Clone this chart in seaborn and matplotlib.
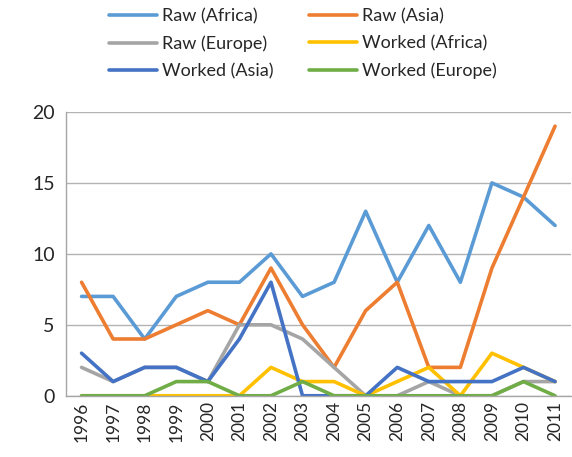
import seaborn as sns
import pandas as pd
import matplotlib.pyplot as plt
import numpy as np

# Data
years = list(range(1996, 2012))
raw_africa = [7, 7, 4, 7, 8, 8, 10, 7, 8, 13, 8, 12, 8, 15, 14, 12]
raw_asia = [8, 4, 4, 5, 6, 5, 9, 5, 2, 6, 8, 2, 2, 9, 14, 19]
raw_europe = [2, 1, 2, 2, 1, 5, 5, 4, 2, 0, 0, 1, 0, 0, 1, 1]
worked_africa = [0, 0, 0, 0, 0, 0, 2, 1, 1, 0, 1, 2, 0, 3, 2, 1]
worked_asia = [3, 1, 2, 2, 1, 4, 8, 0, 0, 0, 2, 1, 1, 1, 2, 1]
worked_europe = [0, 0, 0, 1, 1, 0, 0, 1, 0, 0, 0, 0, 0, 0, 1, 0]

series_names = ['Raw (Africa)', 'Raw (Asia)', 'Raw (Europe)',
                'Worked (Africa)', 'Worked (Asia)', 'Worked (Europe)']
series_values = [raw_africa, raw_asia, raw_europe,
                 worked_africa, worked_asia, worked_europe]
colors = ['#5B9BD5', '#ED7D31', '#A5A5A5', '#FFC000', '#4472C4', '#70AD47']

# Long-form frame for seaborn
df = pd.concat([pd.DataFrame({'Year': years, 'Count': v, 'Series': n})
                for n, v in zip(series_names, series_values)])

sns.set_style('white')
plt.rcParams['font.family'] = ['Lato', 'DejaVu Sans']

fig = plt.figure(figsize=(5.72, 4.57), dpi=100)
ax = fig.add_axes([0.115, 0.134, 0.883, 0.621])

sns.lineplot(data=df, x='Year', y='Count', hue='Series', hue_order=series_names,
             palette=colors, linewidth=2.6, ax=ax, legend=False)

# Axes styling, Excel-like
ax.set_xlim(1995.5, 2011.5)
ax.set_ylim(0, 20)
ax.set_yticks([0, 5, 10, 15, 20])
ax.set_xticks(years)
ax.set_xticklabels([str(y) for y in years], rotation=90)
ax.set_xticks(np.arange(1995.5, 2012, 1), minor=True)
ax.tick_params(axis='x', which='major', length=0, labelsize=12.5, pad=4)
ax.tick_params(axis='x', which='minor', length=5, color='#A6A6A6', width=1)
ax.tick_params(axis='y', length=0, labelsize=14, pad=8)
ax.yaxis.grid(True, color='#B3B3B3', linewidth=1)
ax.set_axisbelow(True)
for s in ['top', 'right']:
    ax.spines[s].set_visible(False)
for s in ['left', 'bottom']:
    ax.spines[s].set_color('#A6A6A6')
    ax.spines[s].set_linewidth(1)
ax.set_xlabel('')
ax.set_ylabel('')

# Legend: two columns, filled row by row
handles = [plt.Line2D([], [], color=c, linewidth=2.6) for c in colors]
order = [0, 2, 4, 1, 3, 5]
fig.legend([handles[i] for i in order], [series_names[i] for i in order],
           ncol=2, loc='upper left', bbox_to_anchor=(0.19, 0.982),
           frameon=False, fontsize=13, handlelength=2.65, handletextpad=0.28,
           columnspacing=2.0, labelspacing=0.62, borderpad=0, borderaxespad=0)

plt.savefig('out.png', dpi=100)
